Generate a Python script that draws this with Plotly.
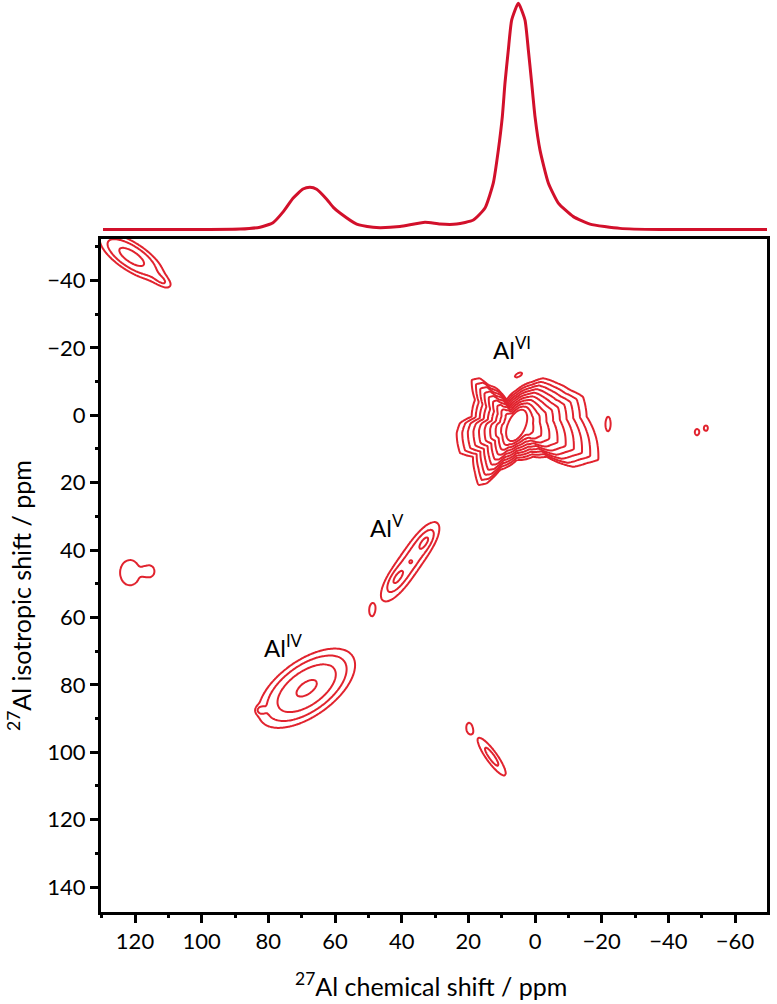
import numpy as np
import plotly.graph_objects as go

# ---------------- data ----------------
# 1D projection (top trace): chemical shift (ppm) and normalised intensity
proj_ppm = [129.6, 115.5, 100.5, 88.5, 82.5, 78.6, 75.5, 72.6, 69.6, 67.5, 65.5, 62.5,
            60.5, 58.5, 53.5, 48.6, 46.5, 40.5, 33.0, 28.5, 23.5, 18.5, 15.0, 12.5,
            11.0, 9.8, 9.0, 8.0, 7.0, 5.0, 3.0, 2.0, 1.0, 0.0, -1.5, -4.0, -7.0,
            -11.5, -16.5, -25.5, -37.5, -49.5, -70.8]
proj_int = [0.0, 0.0, 0.0, 0.002, 0.01, 0.03, 0.079, 0.138, 0.179, 0.187, 0.178, 0.134,
            0.098, 0.073, 0.024, 0.01, 0.008, 0.013, 0.032, 0.024, 0.024, 0.042, 0.095, 0.206,
            0.351, 0.499, 0.648, 0.794, 0.926, 1.0, 0.926, 0.794, 0.648, 0.499, 0.351, 0.206, 0.117,
            0.057, 0.024, 0.005, 0.0, 0.0, 0.0]

# Al(VI) signal: centre, innermost contour (ellipse) and outermost contour
alvi_center = (5.5, 3.0)
alvi_inner_semi_axes = (5.0, 2.6)
alvi_inner_angle = 65
alvi_rings = 10
alvi_outline_x = [19.0, 16.5, 14.0, 11.5, 8.5, 5.5, 0.6, -2.4, -6.5, -10.5, -14.4, -15.5,
                  -18.5, -19.0, -15.5, -11.5, -7.5, -3.5, 0.6, 5.5, 10.5, 14.5, 17.0, 18.0,
                  18.6, 22.5, 23.5, 22.5, 19.0, 18.0]
alvi_outline_y = [-10.5, -11.0, -9.0, -8.0, -4.6, -7.5, -10.0, -11.0, -9.6, -7.5, -5.5, 0.4,
                  7.3, 13.2, 14.2, 15.3, 14.2, 12.3, 12.3, 13.3, 16.2, 20.2, 20.7, 17.0,
                  12.3, 11.2, 5.3, 2.3, 0.4, -4.6]

# other contour components
# centre (F2 shift, isotropic shift), widths along major/minor axis, major-axis angle (deg),
# amplitude, and profile exponents along major / minor axis
peak_x     = [5.0, -22.0,
              37.5, 41.4, 37.2, 33.0, 49.0,
              68.5, 82.3,
              121.0, 111.5,
              121.5, 115.8,
              19.8, 13.0,
              -48.6, -51.3]
peak_y     = [-12.0, 2.3,
              43.5, 48.3, 43.5, 37.5, 58.0,
              81.0, 87.5,
              -47.0, -39.5,
              46.7, 46.3,
              92.8, 101.3,
              5.0, 3.8]
peak_major = [1.6, 2.2,
              11.3, 2.4, 0.7, 2.3, 2.2,
              10.5, 0.9,
              8.0, 2.5,
              3.4, 1.95,
              1.8, 6.6,
              1.3, 1.1]
peak_minor = [0.7, 0.8,
              2.98, 1.0, 0.7, 1.0, 1.0,
              5.2, 0.8,
              3.0, 1.2,
              2.7, 1.8,
              1.0, 1.6,
              0.9, 0.8]
peak_angle = [29, 90,
              55, 55, 0, 55, 90,
              35, 0,
              -33, -33,
              90, 90,
              90, -54,
              90, 90]
peak_amp   = [1.2, 1.0,
              1.88, 0.75, 0.45, 0.8, 0.85,
              3.57, 0.9,
              2.6, 0.8,
              1.45, 1.2,
              1.0, 1.7,
              1.3, 1.3]
peak_pu    = [2, 2,
              3, 2, 2, 2, 2,
              2, 2,
              2, 2,
              4, 4,
              2, 2,
              2, 2]
peak_pv    = [2, 2,
              2, 2, 2, 2, 2,
              2, 2,
              2, 2,
              4, 4,
              2, 2,
              2, 2]

contour_base = 1.0     # lowest contour level
contour_factor = 1.5   # geometric spacing of contour levels

x_ticks = [120, 100, 80, 60, 40, 20, 0, -20, -40, -60]
y_ticks = [-40, -20, 0, 20, 40, 60, 80, 100, 120, 140]

labels_text = ["Al<sup>VI</sup>", "Al<sup>V</sup>", "Al<sup>IV</sup>"]
labels_x = [7.0, 44.4, 75.5]
labels_y = [-20.0, 33.0, 68.5]

x_title = "<sup>27</sup>Al chemical shift / ppm"
y_title = "<sup>27</sup>Al isotropic shift / ppm"

# ---------------- build the contour field ----------------
gx = np.arange(-72.0, 132.0, 0.4)
gy = np.arange(-54.0, 150.0, 0.4)
X, Y = np.meshgrid(gx, gy)

# Al(VI): contours morph evenly from the innermost ellipse to the traced outline
cx, cy = alvi_center
ox = np.array(alvi_outline_x) - cx
oy = np.array(alvi_outline_y) - cy
o_th = np.degrees(np.arctan2(oy, ox))
o_r = np.hypot(ox, oy)
order = np.argsort(o_th)
o_th, o_r = o_th[order], o_r[order]
DX, DY = X - cx, Y - cy
R = np.hypot(DX, DY)
TH = np.degrees(np.arctan2(DY, DX))
R_out = np.interp(TH, o_th, o_r, period=360)
ea, eb = alvi_inner_semi_axes
phi = np.deg2rad(TH - alvi_inner_angle)
R_in = 1.0 / np.sqrt((np.cos(phi) / ea) ** 2 + (np.sin(phi) / eb) ** 2)
t = (R - R_in) / (R_out - R_in)
n_top = alvi_rings - 1
Z_vi = np.minimum(n_top * (1.0 - t), n_top + 0.5)
F = contour_base * contour_factor ** Z_vi

for x0, y0, s1, s2, ang, amp, pu, pv in zip(peak_x, peak_y, peak_major, peak_minor,
                                           peak_angle, peak_amp, peak_pu, peak_pv):
    a = np.deg2rad(ang)
    dx, dy = X - x0, Y - y0
    u = np.abs(dx * np.cos(a) + dy * np.sin(a)) / s1
    v = np.abs(-dx * np.sin(a) + dy * np.cos(a)) / s2
    if pu == pv:
        r = np.sqrt(u * u + v * v)
        e = r ** pu / pu
    else:
        e = u ** pu / pu + v ** pv / pv
    F = F + amp * np.exp(-e)

Z = np.log(F / contour_base + 1e-9) / np.log(contour_factor)
Z = np.round(np.clip(Z, -3, 15), 3)

RED = "#e1232e"
RED_PROJ = "#d2102b"
FONT = "Lato"

fig = go.Figure()
fig.add_trace(go.Contour(
    x=gx, y=gy, z=Z,
    contours=dict(start=0, end=14, size=1, coloring="none", showlabels=False),
    line=dict(color=RED, width=2, smoothing=1.0),
    showscale=False, hoverinfo="skip", xaxis="x", yaxis="y"))

fig.add_trace(go.Scatter(
    x=proj_ppm, y=proj_int, mode="lines",
    line=dict(color=RED_PROJ, width=3, shape="spline", smoothing=0.5),
    xaxis="x2", yaxis="y2", hoverinfo="skip", showlegend=False))

for txt, lx, ly in zip(labels_text, labels_x, labels_y):
    fig.add_annotation(x=lx, y=ly, xref="x", yref="y", text=txt, showarrow=False,
                       xanchor="center", yanchor="middle",
                       font=dict(family=FONT, size=24, color="black"))

# axis titles (placed in paper coordinates of the plot area)
fig.add_annotation(x=0.4955, y=-0.079, xref="paper", yref="paper", text=x_title,
                   showarrow=False, xanchor="center", yanchor="middle",
                   font=dict(family=FONT, size=25, color="black"))
fig.add_annotation(x=-0.1216, y=0.3465, xref="paper", yref="paper", text=y_title,
                   textangle=-90, showarrow=False, xanchor="center", yanchor="middle",
                   font=dict(family=FONT, size=25, color="black"))

axis_common = dict(showline=True, linecolor="black", linewidth=3, mirror=True,
                   ticks="outside", ticklen=8, tickwidth=2.5, tickcolor="black",
                   showgrid=False, zeroline=False, automargin=False,
                   tickfont=dict(family=FONT, size=22, color="black"),
                   minor=dict(ticks="outside", ticklen=3, tickwidth=2.5, dtick=10,
                              tick0=0, tickcolor="black", showgrid=False))

fig.update_layout(
    width=777, height=1004,
    margin=dict(l=101, r=10, t=0, b=92, autoexpand=False),
    paper_bgcolor="white", plot_bgcolor="white",
    showlegend=False,
    xaxis=dict(domain=[0, 1], range=[130.2, -69.6], tickvals=x_ticks,
               anchor="y", **axis_common),
    yaxis=dict(domain=[0, 0.7379], range=[147.4, -52.3], tickvals=y_ticks,
               anchor="x", **axis_common),
    xaxis2=dict(domain=[0, 1], range=[130.2, -69.6], visible=False, anchor="y2",
                matches="x"),
    yaxis2=dict(domain=[0.7445, 1], range=[-0.0155, 1.0146], visible=False, anchor="x2"),
)

fig.write_html("out.html", config={"displayModeBar": False},
               post_script="document.body.style.margin='0px';")
